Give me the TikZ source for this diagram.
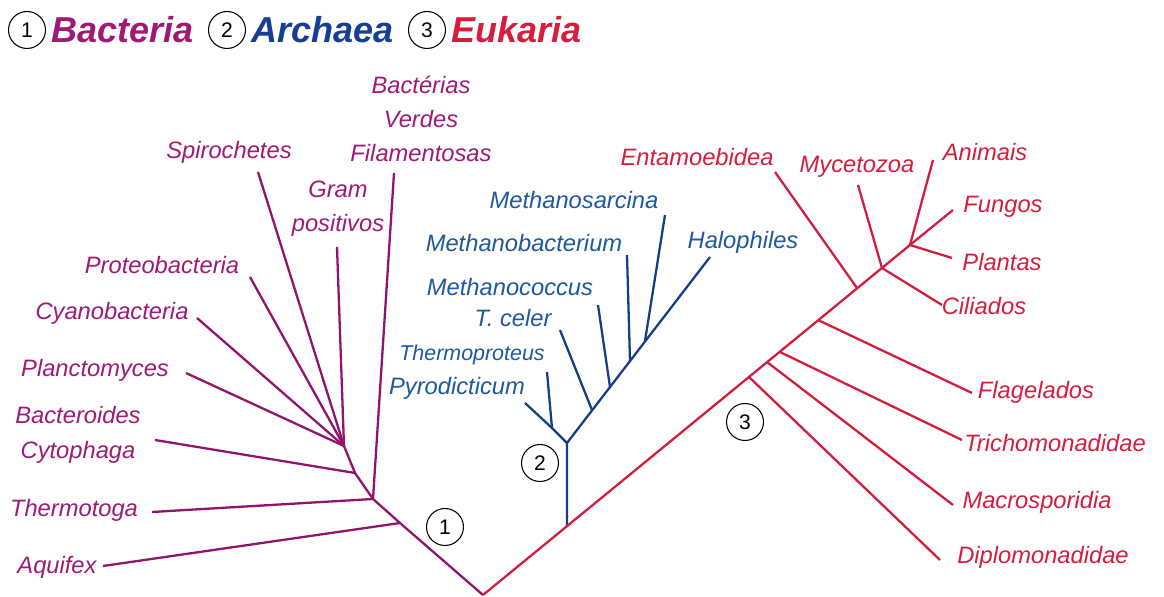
\documentclass[tikz,border=0pt]{standalone}
\usepackage{fontspec}
\setmainfont{Liberation Sans}
\usetikzlibrary{positioning}
\definecolor{bactcol}{RGB}{158,26,118}
\definecolor{bactline}{RGB}{145,20,108}
\definecolor{archcol}{RGB}{30,88,158}
\definecolor{archline}{RGB}{22,62,135}
\definecolor{archtitle}{RGB}{22,62,145}
\definecolor{eukcol}{RGB}{215,28,62}
\definecolor{eukline}{RGB}{210,30,62}
\begin{document}
\begin{tikzpicture}[x=0.02cm,y=-0.02cm,
  bline/.style={draw=bactline,line width=1.3pt},
  aline/.style={draw=archline,line width=1.3pt},
  eline/.style={draw=eukline,line width=1.3pt},
  lab/.style={font=\itshape\fontsize{13.5}{19.5}\selectfont,inner sep=0pt,align=center},
  numcirc/.style={circle,draw,line width=0.6pt,minimum size=0.74cm,inner sep=0pt,font=\fontsize{12}{12}\selectfont},
  titlelab/.style={font=\bfseries\itshape\fontsize{20.5}{24}\selectfont,inner sep=0pt}]
\useasboundingbox (0,0) rectangle (1164,597);

% title
\node[numcirc] (t1) at (27,30) {1};
\node[titlelab,text=bactcol,right=3pt of t1] (tbact) {Bacteria};
\node[numcirc] (t2) at (227,30) {2};
\node[titlelab,text=archtitle,right=3pt of t2] (tarch) {Archaea};
\node[numcirc] (t3) at (427,30) {3};
\node[titlelab,text=eukcol,right=3pt of t3] (teuk) {Eukaria};

% junctions
\coordinate (root) at (483,595);
\coordinate (b1) at (400,523);
\coordinate (b2) at (373,499);
\coordinate (b3) at (355,473);
\coordinate (b4) at (344,446);
\coordinate (a0) at (567,526);
\coordinate (a1) at (567,443);
\coordinate (a2) at (552,428);
\coordinate (a3) at (592,410);
\coordinate (a4) at (610,387);
\coordinate (a5) at (630,361);
\coordinate (a6) at (645,341);
\coordinate (e1) at (749,377);
\coordinate (e2) at (767,362);
\coordinate (e3) at (780,352);
\coordinate (e4) at (818,320);
\coordinate (e5) at (857,288);
\coordinate (e6) at (882,268);
\coordinate (e7) at (910,245);

% tips
\coordinate (aquif) at (103,566);
\coordinate (therm) at (152,512);
\coordinate (bacter) at (155,440);
\coordinate (planct) at (186,373);
\coordinate (cyano) at (197,318);
\coordinate (proteo) at (250,277);
\coordinate (spiro) at (258,172);
\coordinate (gram) at (337,247);
\coordinate (filam) at (394,173);
\coordinate (pyro) at (525,403);
\coordinate (thprot) at (547,372);
\coordinate (tcel) at (560,330);
\coordinate (mcoc) at (598,305);
\coordinate (mbac) at (627,255);
\coordinate (msar) at (665,215);
\coordinate (halo) at (710,257);
\coordinate (diplo) at (940,560);
\coordinate (macro) at (953,505);
\coordinate (trich) at (962,440);
\coordinate (flag) at (972,393);
\coordinate (entam) at (775,172);
\coordinate (myce) at (858,185);
\coordinate (cili) at (942,305);
\coordinate (anim) at (933,160);
\coordinate (fung) at (953,210);
\coordinate (plant) at (952,258);

% bacteria
\draw[bline] (root) -- (b1) -- (b2) -- (b3) -- (b4);
\draw[bline] (b1) -- (aquif);
\draw[bline] (b2) -- (therm);
\draw[bline] (b2) -- (filam);
\draw[bline] (b3) -- (bacter);
\foreach \t in {planct,cyano,proteo,spiro,gram}
  \draw[bline] (b4) -- (\t);

% archaea
\draw[aline] (a0) -- (a1) -- (a2) -- (pyro);
\draw[aline] (a2) -- (thprot);
\draw[aline] (a1) -- (halo);
\draw[aline] (a3) -- (tcel);
\draw[aline] (a4) -- (mcoc);
\draw[aline] (a5) -- (mbac);
\draw[aline] (a6) -- (msar);

% eukaria
\draw[eline] (root) -- (e7);
\draw[eline] (e1) -- (diplo);
\draw[eline] (e2) -- (macro);
\draw[eline] (e3) -- (trich);
\draw[eline] (e4) -- (flag);
\draw[eline] (e5) -- (entam);
\draw[eline] (e6) -- (myce);
\draw[eline] (e6) -- (cili);
\draw[eline] (e7) -- (anim);
\draw[eline] (e7) -- (fung);
\draw[eline] (e7) -- (plant);

% group numbers
\node[numcirc,fill=white] (n1) at (445,527) {1};
\node[numcirc,fill=white] (n2) at (540,463) {2};
\node[numcirc,fill=white] (n3) at (745,422) {3};

% labels
\begin{scope}[text=bactcol]
\node[lab] (laquif) at (57,567) {Aquifex};
\node[lab] (ltherm) at (74,510) {Thermotoga};
\node[lab] (lbacter) at (78,435) {Bacteroides\\Cytophaga};
\node[lab] (lplanct) at (95,370) {Planctomyces};
\node[lab] (lcyano) at (112,313) {Cyanobacteria};
\node[lab] (lproteo) at (162,265) {Proteobacteria};
\node[lab] (lspiro) at (229,152) {Spirochetes};
\node[lab] (lgram) at (338,209) {Gram\\positivos};
\node[lab] (lfilam) at (421,119) {Bactérias\\Verdes\\Filamentosas};
\end{scope}
\begin{scope}[text=archcol]
\node[lab] (lmsar) at (574,200) {Methanosarcina};
\node[lab] (lmbac) at (524,243) {Methanobacterium};
\node[lab] (lhalo) at (743,242) {Halophiles};
\node[lab] (lmcoc) at (510,287) {Methanococcus};
\node[lab] (ltcel) at (513,318) {T. celer};
\node[lab,font=\itshape\fontsize{12.2}{14}\selectfont] (lthprot) at (472,355) {Thermoproteus};
\node[lab] (lpyro) at (457,388) {Pyrodicticum};
\end{scope}
\begin{scope}[text=eukcol]
\node[lab] (lentam) at (697,157) {Entamoebidea};
\node[lab] (lmyce) at (857,167) {Mycetozoa};
\node[lab] (lanim) at (985,152) {Animais};
\node[lab] (lfung) at (1003,207) {Fungos};
\node[lab] (lplant) at (1002,262) {Plantas};
\node[lab] (lcili) at (984,306) {Ciliados};
\node[lab] (lflag) at (1036,392) {Flagelados};
\node[lab] (ltrich) at (1055,443) {Trichomonadidae};
\node[lab] (lmacro) at (1037,502) {Macrosporidia};
\node[lab] (ldiplo) at (1043,557) {Diplomonadidae};
\end{scope}
\end{tikzpicture}
\end{document}
